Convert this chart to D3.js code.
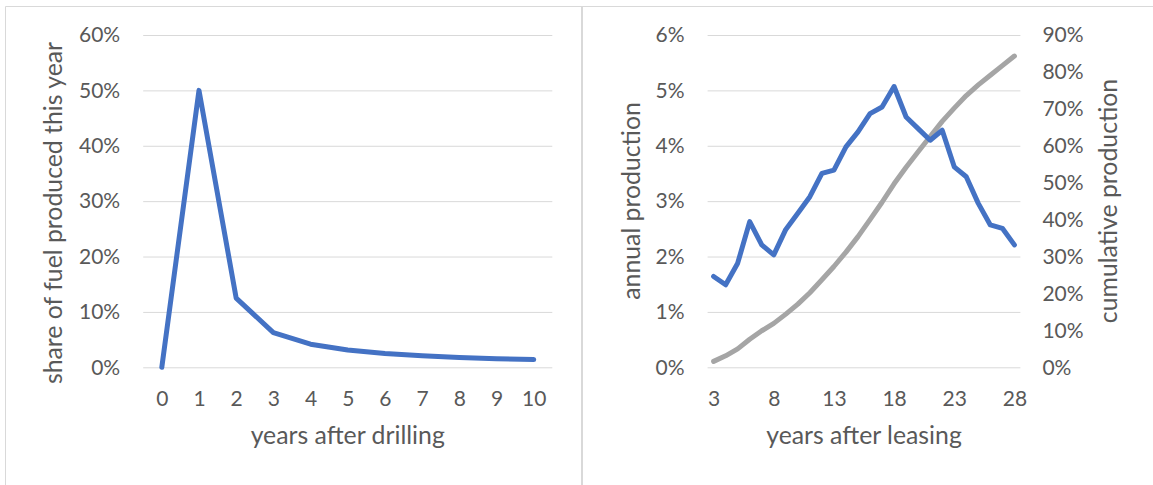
<!DOCTYPE html>
<meta charset="utf-8">
<style>
body { margin: 0; background: #fff; }
text { font-family: Lato, "Open Sans", sans-serif; fill: #595959; }
.tick text { font-size: 21px; }
.title { font-size: 24.8px; }
</style>
<svg width="1153" height="485"></svg>
<script src="https://d3js.org/d3.v7.min.js"></script>
<script>
// left chart: share produced in each year after drilling
var drillYears = [0, 1, 2, 3, 4, 5, 6, 7, 8, 9, 10];
var drillShare = [0, 50, 12.5, 6.25, 4.17, 3.13, 2.5, 2.08, 1.79, 1.56, 1.39];
var drillTicks = [0, 10, 20, 30, 40, 50, 60];

// right chart: production by years after leasing
var leaseYears = [3, 4, 5, 6, 7, 8, 9, 10, 11, 12, 13, 14, 15, 16, 17, 18, 19, 20, 21, 22, 23, 24, 25, 26, 27, 28];
var annualProd = [1.64, 1.49, 1.88, 2.63, 2.21, 2.03, 2.49, 2.78, 3.08, 3.50, 3.56, 3.98, 4.25, 4.58, 4.70, 5.07, 4.52, 4.31, 4.10, 4.28, 3.62, 3.44, 2.96, 2.57, 2.51, 2.21];
var cumulProd = [1.6, 3.1, 5.0, 7.6, 9.9, 11.9, 14.4, 17.1, 20.2, 23.7, 27.3, 31.2, 35.4, 40.0, 44.7, 49.7, 54.2, 58.4, 62.5, 66.6, 70.2, 73.6, 76.5, 79.1, 81.7, 84.3];
var annualTicks = [0, 1, 2, 3, 4, 5, 6];
var cumulTicks = [0, 10, 20, 30, 40, 50, 60, 70, 80, 90];
var leaseLabels = [3, 8, 13, 18, 23, 28];

var blue = "#4472C4", grey = "#A5A5A5", grid = "#D9D9D9";
var plotTop = 35, plotBottom = 367.3;
var lineW = 5;

var svg = d3.select("svg");

// chart frames
svg.append("path")
  .attr("d", "M5.5,485 V6.5 H1153 M581.5,6.5 V485 M582.5,6.5 V485")
  .attr("fill", "none").attr("stroke", grid).attr("stroke-width", 1);

function pct(d) { return d + "%"; }

// ---------- left chart ----------
var L = { x0: 143.2, x1: 552.3 };
var x1 = d3.scalePoint().domain(drillYears).range([L.x0, L.x1]).padding(0.5);
var y1 = d3.scaleLinear().domain([0, 60]).range([plotBottom, plotTop]);

var g1 = svg.append("g");
g1.append("g")
  .attr("transform", "translate(" + L.x0 + ",0)")
  .call(d3.axisLeft(y1).tickValues(drillTicks).tickFormat(pct).tickSize(-(L.x1 - L.x0)).tickPadding(23))
  .call(function(a) {
    a.select(".domain").remove();
    a.selectAll(".tick line").attr("stroke", grid);
  });
g1.append("g")
  .attr("transform", "translate(0," + plotBottom + ")")
  .call(d3.axisBottom(x1).tickSize(0).tickPadding(24))
  .call(function(a) { a.select(".domain").remove(); });

g1.append("path").datum(drillShare)
  .attr("fill", "none").attr("stroke", blue).attr("stroke-width", lineW)
  .attr("stroke-linejoin", "round").attr("stroke-linecap", "round")
  .attr("d", d3.line().x(function(d, i) { return x1(drillYears[i]); }).y(function(d) { return y1(d); }));

g1.append("text").attr("class", "title")
  .attr("text-anchor", "middle")
  .attr("x", (L.x0 + L.x1) / 2).attr("y", 444)
  .text("years after drilling");
g1.append("text").attr("class", "title")
  .attr("text-anchor", "middle")
  .attr("transform", "translate(62,213) rotate(-90)")
  .text("share of fuel produced this year");

// ---------- right chart ----------
var R = { x0: 707.6, x1: 1020.4 };
var x2 = d3.scalePoint().domain(leaseYears).range([R.x0, R.x1]).padding(0.5);
var y2 = d3.scaleLinear().domain([0, 6]).range([plotBottom, plotTop]);
var y3 = d3.scaleLinear().domain([0, 90]).range([plotBottom, plotTop]);

var g2 = svg.append("g");
g2.append("g")
  .attr("transform", "translate(" + R.x0 + ",0)")
  .call(d3.axisLeft(y2).tickValues(annualTicks).tickFormat(pct).tickSize(-(R.x1 - R.x0)).tickPadding(23))
  .call(function(a) {
    a.select(".domain").remove();
    a.selectAll(".tick line").attr("stroke", grid);
  });
g2.append("g")
  .attr("transform", "translate(" + R.x1 + ",0)")
  .call(d3.axisRight(y3).tickValues(cumulTicks).tickFormat(pct).tickSize(0).tickPadding(22))
  .call(function(a) { a.select(".domain").remove(); });
g2.append("g")
  .attr("transform", "translate(0," + plotBottom + ")")
  .call(d3.axisBottom(x2).tickValues(leaseLabels).tickSize(0).tickPadding(24))
  .call(function(a) { a.select(".domain").remove(); });

g2.append("path").datum(cumulProd)
  .attr("fill", "none").attr("stroke", grey).attr("stroke-width", lineW)
  .attr("stroke-linejoin", "round").attr("stroke-linecap", "round")
  .attr("d", d3.line().x(function(d, i) { return x2(leaseYears[i]); }).y(function(d) { return y3(d); }));
g2.append("path").datum(annualProd)
  .attr("fill", "none").attr("stroke", blue).attr("stroke-width", lineW)
  .attr("stroke-linejoin", "round").attr("stroke-linecap", "round")
  .attr("d", d3.line().x(function(d, i) { return x2(leaseYears[i]); }).y(function(d) { return y2(d); }));

g2.append("text").attr("class", "title")
  .attr("text-anchor", "middle")
  .attr("x", (R.x0 + R.x1) / 2).attr("y", 444)
  .text("years after leasing");
g2.append("text").attr("class", "title")
  .attr("text-anchor", "middle")
  .attr("transform", "translate(640,201) rotate(-90)")
  .text("annual production");
g2.append("text").attr("class", "title")
  .attr("text-anchor", "middle")
  .attr("transform", "translate(1117,201) rotate(-90)")
  .text("cumulative production");
</script>
